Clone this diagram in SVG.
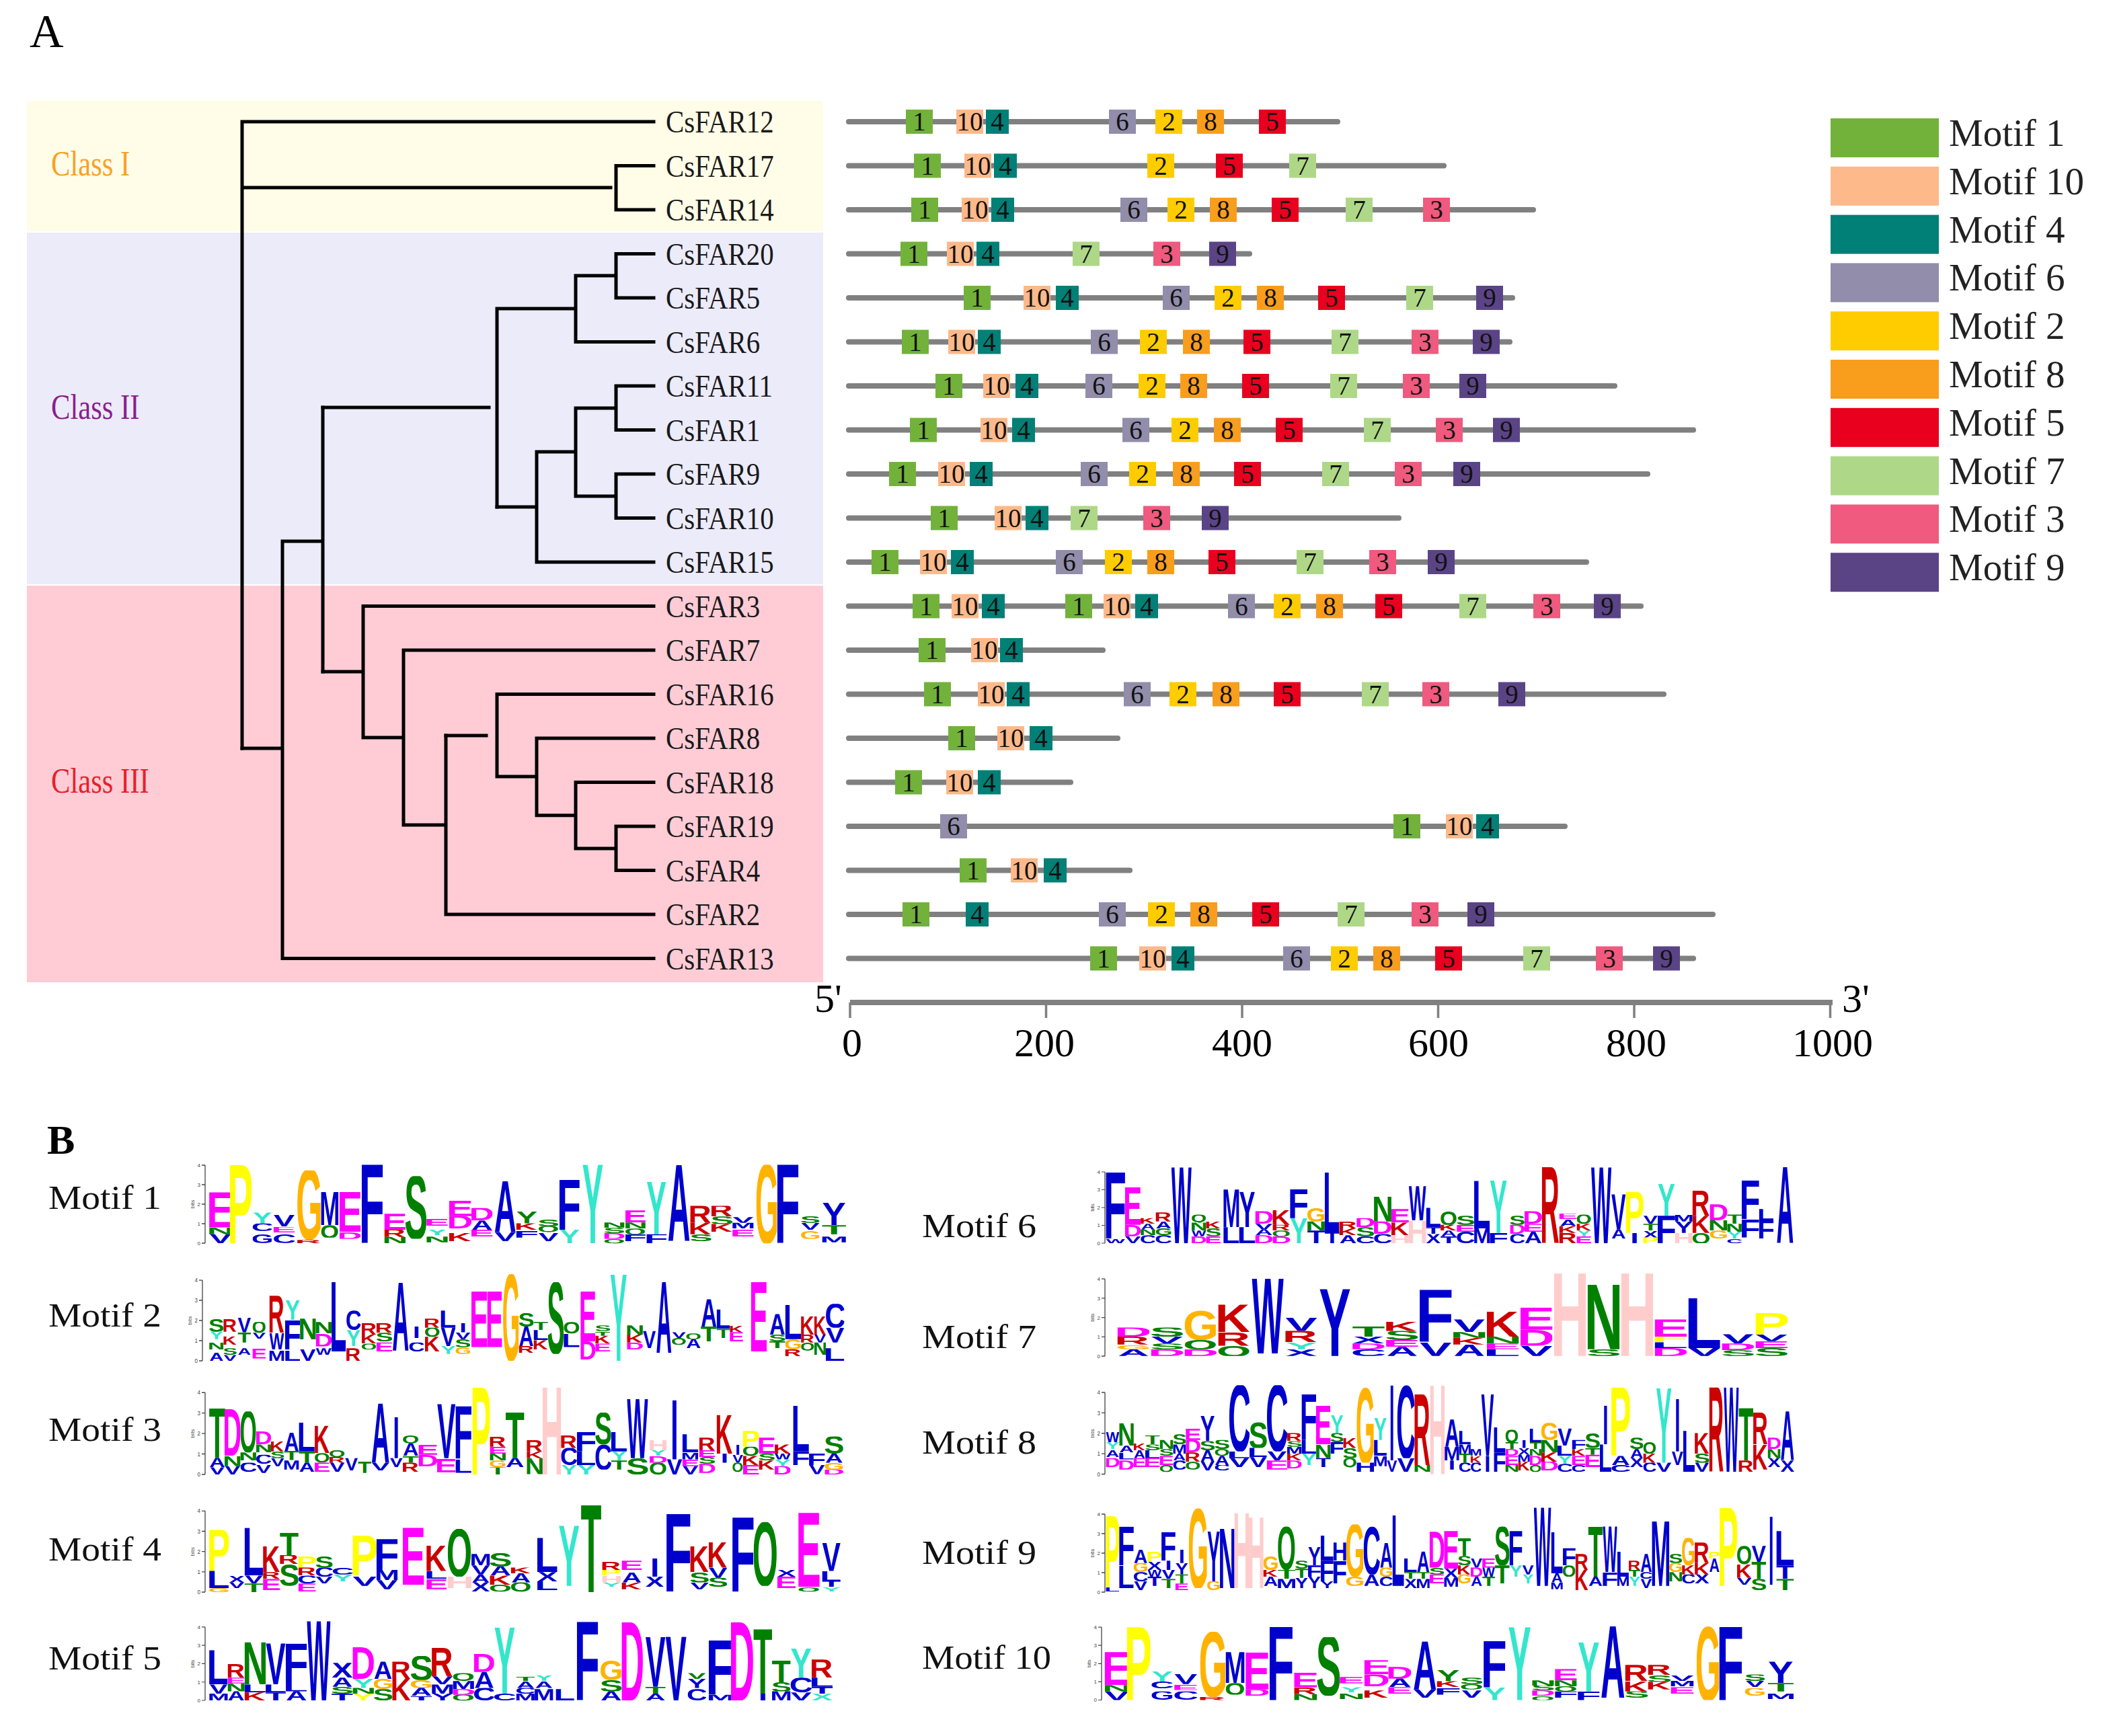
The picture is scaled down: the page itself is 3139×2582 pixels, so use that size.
<svg xmlns="http://www.w3.org/2000/svg" xmlns:xlink="http://www.w3.org/1999/xlink" width="3139" height="2582" viewBox="0 0 3139 2582">
<style>
symbol text{font-family:"Liberation Sans",Arial,sans-serif;font-weight:700;font-size:1000px}
.b{fill:#0000CC}.g{fill:#008000}.m{fill:#FF00FF}.r{fill:#CC0000}.o{fill:#FFB300}.y{fill:#FFFF00}.c{fill:#33E6CC}.p{fill:#FFCCCC}
.serif{font-family:"Liberation Serif","Times New Roman",serif}
.leaf{font-family:"Liberation Serif","Times New Roman",serif;font-size:47px;fill:#1a1a1a}
.cls{font-family:"Liberation Serif","Times New Roman",serif;font-size:52px}
.tree path{fill:none;stroke:#000;stroke-width:5;stroke-linecap:square}
.seq{fill:none;stroke:#808080;stroke-width:8;stroke-linecap:round}
.bx text{font-family:"Liberation Serif","Times New Roman",serif;font-size:39px;text-anchor:middle;fill:#111}
.k1{fill:#72B23A}.k10{fill:#FDB98A}.k4{fill:#008076}.k6{fill:#918DAA}.k2{fill:#FFCC00}.k8{fill:#F99D1C}.k5{fill:#E8001E}.k7{fill:#AED888}.k3{fill:#EF5A7E}.k9{fill:#5B4486}
.leg{font-family:"Liberation Serif","Times New Roman",serif;font-size:57px;fill:#222}
.axn{font-family:"Liberation Serif","Times New Roman",serif;font-size:60px;fill:#000;text-anchor:middle}
.ml{font-family:"Liberation Serif","Times New Roman",serif;font-size:50px;fill:#111}
.ax path{fill:none;stroke:#444;stroke-width:1.3}
.ax text{font-family:"Liberation Sans",Arial,sans-serif;font-size:8px;fill:#444}
</style>
<defs>
<symbol id="A" viewBox="0 24 722 692" preserveAspectRatio="none"><text y="716">A</text></symbol>
<symbol id="C" viewBox="40 24 640 692" preserveAspectRatio="none"><text y="716">C</text></symbol>
<symbol id="D" viewBox="70 24 605 692" preserveAspectRatio="none"><text y="716">D</text></symbol>
<symbol id="E" viewBox="70 24 550 692" preserveAspectRatio="none"><text y="716">E</text></symbol>
<symbol id="F" viewBox="70 24 500 692" preserveAspectRatio="none"><text y="716">F</text></symbol>
<symbol id="G" viewBox="40 24 690 692" preserveAspectRatio="none"><text y="716">G</text></symbol>
<symbol id="H" viewBox="70 24 580 692" preserveAspectRatio="none"><text y="716">H</text></symbol>
<symbol id="I" viewBox="-150 24 578 692" preserveAspectRatio="none"><text y="716">I</text></symbol>
<symbol id="K" viewBox="70 24 655 692" preserveAspectRatio="none"><text y="716">K</text></symbol>
<symbol id="L" viewBox="70 24 515 692" preserveAspectRatio="none"><text y="716">L</text></symbol>
<symbol id="M" viewBox="70 24 695 692" preserveAspectRatio="none"><text y="716">M</text></symbol>
<symbol id="N" viewBox="70 24 580 692" preserveAspectRatio="none"><text y="716">N</text></symbol>
<symbol id="P" viewBox="70 24 550 692" preserveAspectRatio="none"><text y="716">P</text></symbol>
<symbol id="Q" viewBox="40 24 715 692" preserveAspectRatio="none"><text y="716">Q</text></symbol>
<symbol id="R" viewBox="70 24 650 692" preserveAspectRatio="none"><text y="716">R</text></symbol>
<symbol id="S" viewBox="30 24 600 692" preserveAspectRatio="none"><text y="716">S</text></symbol>
<symbol id="T" viewBox="20 24 570 692" preserveAspectRatio="none"><text y="716">T</text></symbol>
<symbol id="V" viewBox="0 24 667 692" preserveAspectRatio="none"><text y="716">V</text></symbol>
<symbol id="W" viewBox="0 24 944 692" preserveAspectRatio="none"><text y="716">W</text></symbol>
<symbol id="X" viewBox="0 24 667 692" preserveAspectRatio="none"><text y="716">X</text></symbol>
<symbol id="Y" viewBox="0 24 667 692" preserveAspectRatio="none"><text y="716">Y</text></symbol>
<g id="b1" class="bx"><rect class="k1" x="0" y="-18" width="40" height="36"/><text x="20" y="13">1</text></g>
<g id="b2" class="bx"><rect class="k2" x="0" y="-18" width="40" height="36"/><text x="20" y="13">2</text></g>
<g id="b3" class="bx"><rect class="k3" x="0" y="-18" width="40" height="36"/><text x="20" y="13">3</text></g>
<g id="b4" class="bx"><rect class="k4" x="0" y="-18" width="34" height="36"/><text x="17" y="13">4</text></g>
<g id="b5" class="bx"><rect class="k5" x="0" y="-18" width="40" height="36"/><text x="20" y="13">5</text></g>
<g id="b6" class="bx"><rect class="k6" x="0" y="-18" width="40" height="36"/><text x="20" y="13">6</text></g>
<g id="b7" class="bx"><rect class="k7" x="0" y="-18" width="40" height="36"/><text x="20" y="13">7</text></g>
<g id="b8" class="bx"><rect class="k8" x="0" y="-18" width="40" height="36"/><text x="20" y="13">8</text></g>
<g id="b9" class="bx"><rect class="k9" x="0" y="-18" width="40" height="36"/><text x="20" y="13">9</text></g>
<g id="b10" class="bx"><rect class="k10" x="0" y="-18" width="40" height="36"/><text x="20" y="13">10</text></g>
<g id="ax" class="ax"><path d="M0,0V-116M-5,0H0M-5,-29H0M-5,-58H0M-5,-87H0M-5,-116H0"/><text x="-7" y="3" text-anchor="end">0</text><text x="-7" y="-26" text-anchor="end">1</text><text x="-7" y="-55" text-anchor="end">2</text><text x="-7" y="-84" text-anchor="end">3</text><text x="-7" y="-113" text-anchor="end">4</text><text transform="translate(-16,-58) rotate(-90)" text-anchor="middle">bits</text></g>
<g id="logoM1">
<use href="#E" class="m" x="333" y="245" width="42" height="155"/><use href="#N" class="g" x="333" y="400" width="42" height="30"/><use href="#V" class="b" x="333" y="430" width="42" height="40"/>
<use href="#P" class="y" x="372" y="125" width="41" height="345"/>
<use href="#Y" class="c" x="415" y="335" width="37" height="48"/><use href="#C" class="b" x="415" y="383" width="37" height="32"/><use href="#G" class="b" x="415" y="430" width="37" height="38"/>
<use href="#V" class="b" x="455" y="345" width="40" height="50"/><use href="#E" class="m" x="455" y="398" width="40" height="25"/><use href="#C" class="b" x="455" y="430" width="40" height="38"/>
<use href="#G" class="o" x="500" y="150" width="45" height="305"/><use href="#R" class="r" x="500" y="455" width="45" height="15"/>
<use href="#M" class="b" x="545" y="245" width="33" height="145"/><use href="#Q" class="g" x="545" y="390" width="33" height="55"/>
<use href="#E" class="m" x="580" y="245" width="40" height="175"/><use href="#D" class="m" x="580" y="420" width="40" height="30"/>
<use href="#F" class="b" x="622" y="125" width="40" height="345"/>
<use href="#E" class="m" x="665" y="340" width="40" height="70"/><use href="#R" class="r" x="665" y="410" width="40" height="32"/><use href="#N" class="g" x="665" y="442" width="40" height="28"/>
<use href="#S" class="g" x="705" y="175" width="40" height="275"/>
<use href="#E" class="m" x="745" y="362" width="40" height="30"/><use href="#Y" class="c" x="745" y="410" width="40" height="25"/><use href="#N" class="g" x="745" y="440" width="40" height="25"/>
<use href="#E" class="m" x="788" y="283" width="42" height="67"/><use href="#D" class="m" x="788" y="350" width="42" height="55"/><use href="#K" class="r" x="788" y="425" width="42" height="35"/>
<use href="#D" class="m" x="830" y="315" width="40" height="55"/><use href="#A" class="b" x="830" y="370" width="40" height="40"/><use href="#E" class="m" x="830" y="410" width="40" height="30"/>
<use href="#A" class="b" x="873" y="195" width="42" height="225"/><use href="#V" class="b" x="873" y="420" width="42" height="40"/>
<use href="#Y" class="g" x="915" y="328" width="40" height="54"/><use href="#K" class="r" x="915" y="382" width="40" height="28"/><use href="#F" class="b" x="915" y="415" width="40" height="30"/>
<use href="#S" class="g" x="957" y="365" width="38" height="30"/><use href="#Q" class="g" x="957" y="395" width="38" height="25"/><use href="#V" class="b" x="957" y="425" width="38" height="35"/>
<use href="#F" class="b" x="997" y="190" width="38" height="220"/><use href="#Y" class="c" x="997" y="410" width="38" height="60"/>
<use href="#Y" class="c" x="1040" y="125" width="40" height="345"/>
<use href="#N" class="g" x="1082" y="378" width="38" height="24"/><use href="#S" class="g" x="1082" y="402" width="38" height="23"/><use href="#D" class="m" x="1082" y="425" width="38" height="25"/><use href="#Q" class="g" x="1082" y="450" width="38" height="20"/>
<use href="#E" class="m" x="1122" y="325" width="38" height="53"/><use href="#N" class="g" x="1122" y="378" width="38" height="27"/><use href="#Q" class="g" x="1122" y="405" width="38" height="25"/><use href="#F" class="b" x="1122" y="430" width="38" height="30"/>
<use href="#Y" class="c" x="1162" y="200" width="38" height="230"/><use href="#F" class="b" x="1162" y="430" width="38" height="40"/>
<use href="#A" class="b" x="1202" y="125" width="43" height="335"/>
<use href="#R" class="r" x="1245" y="305" width="40" height="75"/><use href="#K" class="r" x="1245" y="380" width="40" height="50"/><use href="#S" class="g" x="1245" y="430" width="40" height="30"/>
<use href="#R" class="r" x="1285" y="305" width="40" height="47"/><use href="#S" class="g" x="1285" y="352" width="40" height="33"/><use href="#K" class="r" x="1285" y="385" width="40" height="35"/>
<use href="#V" class="b" x="1325" y="355" width="40" height="25"/><use href="#M" class="b" x="1325" y="380" width="40" height="25"/><use href="#E" class="m" x="1325" y="410" width="40" height="30"/>
<use href="#G" class="o" x="1370" y="125" width="40" height="345"/>
<use href="#F" class="b" x="1410" y="125" width="40" height="345"/>
<use href="#S" class="g" x="1455" y="350" width="35" height="30"/><use href="#V" class="b" x="1455" y="380" width="35" height="30"/><use href="#G" class="o" x="1455" y="415" width="35" height="35"/>
<use href="#Y" class="b" x="1495" y="290" width="45" height="100"/><use href="#T" class="g" x="1495" y="390" width="45" height="40"/><use href="#M" class="b" x="1495" y="440" width="45" height="25"/>
</g>
</defs>
<rect width="3139" height="2582" fill="#fff"/>
<text class="serif" x="44" y="70" font-size="70">A</text>
<g id="bands">
<rect x="40" y="150" width="1184" height="194" fill="#FFFDE7"/>
<rect x="40" y="346" width="1184" height="523" fill="#ECEBFA"/>
<rect x="40" y="871" width="1184" height="590" fill="#FFCCD6"/>
<text class="cls" transform="translate(76,261) scale(0.82,1)" fill="#F7A128">Class I</text>
<text class="cls" transform="translate(76,623) scale(0.82,1)" fill="#8B1F8B">Class II</text>
<text class="cls" transform="translate(76,1179) scale(0.82,1)" fill="#E8202A">Class III</text>
</g>
<g id="connectors" class="tree">
<path d="M360,181V1113M360,181H972M360,279H908M916,246.5V312M916,246.5H972M916,312H972"/>
<path d="M360,1113H420M420,805V1425.5M420,1425.5H972M420,805H480M480,606V999"/>
<path d="M480,606H727M739,459V754M739,459H856M856,410V508.5M856,410H916M916,377.5V443M916,377.5H972M916,443H972M856,508.5H972"/>
<path d="M739,754H798M798,672V836M798,836H972M798,672H856M856,607V738M856,607H916M916,574V639.5M916,574H972M916,639.5H972M856,738H916M916,705V770.5M916,705H972M916,770.5H972"/>
<path d="M480,999H540M540,901.5V1097M540,901.5H972M540,1097H600M600,967V1227M600,967H972M600,1227H663M663,1094V1360M663,1360H972"/>
<path d="M663,1094H723M739,1032.5V1155M739,1032.5H972M739,1155H798M798,1098V1212.7M798,1098H972M798,1212.7H856M856,1163.5V1262M856,1163.5H972M856,1262H916M916,1229V1294.5M916,1229H972M916,1294.5H972"/>
</g>
<g id="leaf-labels">
<g id="CsFAR12"><text class="leaf" transform="translate(990,197) scale(0.87,1)">CsFAR12</text></g>
<g id="CsFAR17"><text class="leaf" transform="translate(990,262.5) scale(0.87,1)">CsFAR17</text></g>
<g id="CsFAR14"><text class="leaf" transform="translate(990,328) scale(0.87,1)">CsFAR14</text></g>
<g id="CsFAR20"><text class="leaf" transform="translate(990,393.5) scale(0.87,1)">CsFAR20</text></g>
<g id="CsFAR5"><text class="leaf" transform="translate(990,459) scale(0.87,1)">CsFAR5</text></g>
<g id="CsFAR6"><text class="leaf" transform="translate(990,524.5) scale(0.87,1)">CsFAR6</text></g>
<g id="CsFAR11"><text class="leaf" transform="translate(990,590) scale(0.87,1)">CsFAR11</text></g>
<g id="CsFAR1"><text class="leaf" transform="translate(990,655.5) scale(0.87,1)">CsFAR1</text></g>
<g id="CsFAR9"><text class="leaf" transform="translate(990,721) scale(0.87,1)">CsFAR9</text></g>
<g id="CsFAR10"><text class="leaf" transform="translate(990,786.5) scale(0.87,1)">CsFAR10</text></g>
<g id="CsFAR15"><text class="leaf" transform="translate(990,852) scale(0.87,1)">CsFAR15</text></g>
<g id="CsFAR3"><text class="leaf" transform="translate(990,917.5) scale(0.87,1)">CsFAR3</text></g>
<g id="CsFAR7"><text class="leaf" transform="translate(990,983) scale(0.87,1)">CsFAR7</text></g>
<g id="CsFAR16"><text class="leaf" transform="translate(990,1048.5) scale(0.87,1)">CsFAR16</text></g>
<g id="CsFAR8"><text class="leaf" transform="translate(990,1114) scale(0.87,1)">CsFAR8</text></g>
<g id="CsFAR18"><text class="leaf" transform="translate(990,1179.5) scale(0.87,1)">CsFAR18</text></g>
<g id="CsFAR19"><text class="leaf" transform="translate(990,1245) scale(0.87,1)">CsFAR19</text></g>
<g id="CsFAR4"><text class="leaf" transform="translate(990,1310.5) scale(0.87,1)">CsFAR4</text></g>
<g id="CsFAR2"><text class="leaf" transform="translate(990,1376) scale(0.87,1)">CsFAR2</text></g>
<g id="CsFAR13"><text class="leaf" transform="translate(990,1441.5) scale(0.87,1)">CsFAR13</text></g>
</g>
<g id="motif-rows">
<g id="row-CsFAR12"><path class="seq" d="M1262,181H1989"/><use href="#b1" x="1347" y="181"/><use href="#b10" x="1422" y="181"/><use href="#b4" x="1466" y="181"/><use href="#b6" x="1649" y="181"/><use href="#b2" x="1718" y="181"/><use href="#b8" x="1780" y="181"/><use href="#b5" x="1872" y="181"/></g>
<g id="row-CsFAR17"><path class="seq" d="M1262,246.5H2147"/><use href="#b1" x="1359" y="246.5"/><use href="#b10" x="1434" y="246.5"/><use href="#b4" x="1478" y="246.5"/><use href="#b2" x="1706" y="246.5"/><use href="#b5" x="1808" y="246.5"/><use href="#b7" x="1917" y="246.5"/></g>
<g id="row-CsFAR14"><path class="seq" d="M1262,312H2280"/><use href="#b1" x="1355" y="312"/><use href="#b10" x="1430" y="312"/><use href="#b4" x="1474" y="312"/><use href="#b6" x="1666" y="312"/><use href="#b2" x="1736" y="312"/><use href="#b8" x="1799" y="312"/><use href="#b5" x="1891" y="312"/><use href="#b7" x="2001" y="312"/><use href="#b3" x="2116" y="312"/></g>
<g id="row-CsFAR20"><path class="seq" d="M1262,377.5H1858"/><use href="#b1" x="1339" y="377.5"/><use href="#b10" x="1408" y="377.5"/><use href="#b4" x="1452" y="377.5"/><use href="#b7" x="1595" y="377.5"/><use href="#b3" x="1715" y="377.5"/><use href="#b9" x="1798" y="377.5"/></g>
<g id="row-CsFAR5"><path class="seq" d="M1262,443H2249"/><use href="#b1" x="1433" y="443"/><use href="#b10" x="1522" y="443"/><use href="#b4" x="1570" y="443"/><use href="#b6" x="1729" y="443"/><use href="#b2" x="1806" y="443"/><use href="#b8" x="1869" y="443"/><use href="#b5" x="1960" y="443"/><use href="#b7" x="2091" y="443"/><use href="#b9" x="2195" y="443"/></g>
<g id="row-CsFAR6"><path class="seq" d="M1262,508.5H2245"/><use href="#b1" x="1341" y="508.5"/><use href="#b10" x="1410" y="508.5"/><use href="#b4" x="1454" y="508.5"/><use href="#b6" x="1622" y="508.5"/><use href="#b2" x="1695" y="508.5"/><use href="#b8" x="1759" y="508.5"/><use href="#b5" x="1849" y="508.5"/><use href="#b7" x="1980" y="508.5"/><use href="#b3" x="2099" y="508.5"/><use href="#b9" x="2190" y="508.5"/></g>
<g id="row-CsFAR11"><path class="seq" d="M1262,574H2401"/><use href="#b1" x="1391" y="574"/><use href="#b10" x="1462" y="574"/><use href="#b4" x="1510" y="574"/><use href="#b6" x="1614" y="574"/><use href="#b2" x="1693" y="574"/><use href="#b8" x="1755" y="574"/><use href="#b5" x="1847" y="574"/><use href="#b7" x="1978" y="574"/><use href="#b3" x="2086" y="574"/><use href="#b9" x="2170" y="574"/></g>
<g id="row-CsFAR1"><path class="seq" d="M1262,639.5H2518"/><use href="#b1" x="1353" y="639.5"/><use href="#b10" x="1458" y="639.5"/><use href="#b4" x="1505" y="639.5"/><use href="#b6" x="1669" y="639.5"/><use href="#b2" x="1742" y="639.5"/><use href="#b8" x="1805" y="639.5"/><use href="#b5" x="1897" y="639.5"/><use href="#b7" x="2028" y="639.5"/><use href="#b3" x="2135" y="639.5"/><use href="#b9" x="2220" y="639.5"/></g>
<g id="row-CsFAR9"><path class="seq" d="M1262,705H2450"/><use href="#b1" x="1322" y="705"/><use href="#b10" x="1395" y="705"/><use href="#b4" x="1442" y="705"/><use href="#b6" x="1607" y="705"/><use href="#b2" x="1679" y="705"/><use href="#b8" x="1744" y="705"/><use href="#b5" x="1835" y="705"/><use href="#b7" x="1966" y="705"/><use href="#b3" x="2074" y="705"/><use href="#b9" x="2161" y="705"/></g>
<g id="row-CsFAR10"><path class="seq" d="M1262,770.5H2080"/><use href="#b1" x="1384" y="770.5"/><use href="#b10" x="1479" y="770.5"/><use href="#b4" x="1525" y="770.5"/><use href="#b7" x="1592" y="770.5"/><use href="#b3" x="1700" y="770.5"/><use href="#b9" x="1787" y="770.5"/></g>
<g id="row-CsFAR15"><path class="seq" d="M1262,836H2359"/><use href="#b1" x="1296" y="836"/><use href="#b10" x="1368" y="836"/><use href="#b4" x="1414" y="836"/><use href="#b6" x="1570" y="836"/><use href="#b2" x="1643" y="836"/><use href="#b8" x="1706" y="836"/><use href="#b5" x="1797" y="836"/><use href="#b7" x="1928" y="836"/><use href="#b3" x="2036" y="836"/><use href="#b9" x="2123" y="836"/></g>
<g id="row-CsFAR3"><path class="seq" d="M1262,901.5H2440"/><use href="#b1" x="1357" y="901.5"/><use href="#b10" x="1415" y="901.5"/><use href="#b4" x="1460" y="901.5"/><use href="#b1" x="1584" y="901.5"/><use href="#b10" x="1641" y="901.5"/><use href="#b4" x="1688" y="901.5"/><use href="#b6" x="1826" y="901.5"/><use href="#b2" x="1894" y="901.5"/><use href="#b8" x="1957" y="901.5"/><use href="#b5" x="2045" y="901.5"/><use href="#b7" x="2170" y="901.5"/><use href="#b3" x="2280" y="901.5"/><use href="#b9" x="2370" y="901.5"/></g>
<g id="row-CsFAR7"><path class="seq" d="M1262,967H1640"/><use href="#b1" x="1366" y="967"/><use href="#b10" x="1444" y="967"/><use href="#b4" x="1487" y="967"/></g>
<g id="row-CsFAR16"><path class="seq" d="M1262,1032.5H2474"/><use href="#b1" x="1374" y="1032.5"/><use href="#b10" x="1454" y="1032.5"/><use href="#b4" x="1497" y="1032.5"/><use href="#b6" x="1671" y="1032.5"/><use href="#b2" x="1739" y="1032.5"/><use href="#b8" x="1803" y="1032.5"/><use href="#b5" x="1894" y="1032.5"/><use href="#b7" x="2025" y="1032.5"/><use href="#b3" x="2115" y="1032.5"/><use href="#b9" x="2228" y="1032.5"/></g>
<g id="row-CsFAR8"><path class="seq" d="M1262,1098H1662"/><use href="#b1" x="1410" y="1098"/><use href="#b10" x="1483" y="1098"/><use href="#b4" x="1531" y="1098"/></g>
<g id="row-CsFAR18"><path class="seq" d="M1262,1163.5H1592"/><use href="#b1" x="1331" y="1163.5"/><use href="#b10" x="1407" y="1163.5"/><use href="#b4" x="1454" y="1163.5"/></g>
<g id="row-CsFAR19"><path class="seq" d="M1262,1229H2327"/><use href="#b6" x="1398" y="1229"/><use href="#b1" x="2072" y="1229"/><use href="#b10" x="2150" y="1229"/><use href="#b4" x="2195" y="1229"/></g>
<g id="row-CsFAR4"><path class="seq" d="M1262,1294.5H1680"/><use href="#b1" x="1427" y="1294.5"/><use href="#b10" x="1503" y="1294.5"/><use href="#b4" x="1552" y="1294.5"/></g>
<g id="row-CsFAR2"><path class="seq" d="M1262,1360H2547"/><use href="#b1" x="1342" y="1360"/><use href="#b4" x="1436" y="1360"/><use href="#b6" x="1634" y="1360"/><use href="#b2" x="1707" y="1360"/><use href="#b8" x="1770" y="1360"/><use href="#b5" x="1862" y="1360"/><use href="#b7" x="1989" y="1360"/><use href="#b3" x="2099" y="1360"/><use href="#b9" x="2182" y="1360"/></g>
<g id="row-CsFAR13"><path class="seq" d="M1262,1425.5H2518"/><use href="#b1" x="1621" y="1425.5"/><use href="#b10" x="1694" y="1425.5"/><use href="#b4" x="1742" y="1425.5"/><use href="#b6" x="1908" y="1425.5"/><use href="#b2" x="1979" y="1425.5"/><use href="#b8" x="2042" y="1425.5"/><use href="#b5" x="2134" y="1425.5"/><use href="#b7" x="2265" y="1425.5"/><use href="#b3" x="2373" y="1425.5"/><use href="#b9" x="2458" y="1425.5"/></g>
</g>
<g id="axis">
<path d="M1264,1491H2725" stroke="#808080" stroke-width="8" fill="none"/>
<path d="M1264,1491V1514M1555.5,1491V1514M1847,1491V1514M2138.5,1491V1514M2430,1491V1514M2721.5,1491V1514" stroke="#808080" stroke-width="3.5" fill="none"/>
<text class="serif" x="1211" y="1505" font-size="60">5'</text>
<text class="serif" x="2739" y="1505" font-size="60">3'</text>
<text class="axn" x="1267" y="1571">0</text>
<text class="axn" x="1553" y="1571">200</text>
<text class="axn" x="1847" y="1571">400</text>
<text class="axn" x="2139" y="1571">600</text>
<text class="axn" x="2433" y="1571">800</text>
<text class="axn" x="2725" y="1571">1000</text>
</g>
<g id="legend">
<rect class="k1" x="2722" y="176" width="161" height="58"/><text class="leg" x="2898" y="217">Motif 1</text>
<rect class="k10" x="2722" y="247.8" width="161" height="58"/><text class="leg" x="2898" y="288.8">Motif 10</text>
<rect class="k4" x="2722" y="319.6" width="161" height="58"/><text class="leg" x="2898" y="360.6">Motif 4</text>
<rect class="k6" x="2722" y="391.4" width="161" height="58"/><text class="leg" x="2898" y="432.4">Motif 6</text>
<rect class="k2" x="2722" y="463.2" width="161" height="58"/><text class="leg" x="2898" y="504.2">Motif 2</text>
<rect class="k8" x="2722" y="535" width="161" height="58"/><text class="leg" x="2898" y="576">Motif 8</text>
<rect class="k5" x="2722" y="606.8" width="161" height="58"/><text class="leg" x="2898" y="647.8">Motif 5</text>
<rect class="k7" x="2722" y="678.6" width="161" height="58"/><text class="leg" x="2898" y="719.6">Motif 7</text>
<rect class="k3" x="2722" y="750.4" width="161" height="58"/><text class="leg" x="2898" y="791.4">Motif 3</text>
<rect class="k9" x="2722" y="822.2" width="161" height="58"/><text class="leg" x="2898" y="863.2">Motif 9</text>
</g>
<text class="serif" x="70" y="1716" font-size="62" font-weight="bold">B</text>
<g id="logo-labels">
<text class="ml" x="72" y="1798" textLength="168" lengthAdjust="spacingAndGlyphs">Motif 1</text>
<text class="ml" x="72" y="1973" textLength="168" lengthAdjust="spacingAndGlyphs">Motif 2</text>
<text class="ml" x="72" y="2143" textLength="168" lengthAdjust="spacingAndGlyphs">Motif 3</text>
<text class="ml" x="72" y="2321" textLength="168" lengthAdjust="spacingAndGlyphs">Motif 4</text>
<text class="ml" x="72" y="2483" textLength="168" lengthAdjust="spacingAndGlyphs">Motif 5</text>
<text class="ml" x="1371" y="1840" textLength="170" lengthAdjust="spacingAndGlyphs">Motif 6</text>
<text class="ml" x="1371" y="2005" textLength="170" lengthAdjust="spacingAndGlyphs">Motif 7</text>
<text class="ml" x="1371" y="2162" textLength="170" lengthAdjust="spacingAndGlyphs">Motif 8</text>
<text class="ml" x="1371" y="2326" textLength="170" lengthAdjust="spacingAndGlyphs">Motif 9</text>
<text class="ml" x="1371" y="2482" textLength="192" lengthAdjust="spacingAndGlyphs">Motif 10</text>
</g>
<g id="logo-axes">
<use href="#ax" transform="translate(305,1849)"/>
<use href="#ax" transform="translate(301,2024) scale(1,1.034)"/>
<use href="#ax" transform="translate(305,2193) scale(1,1.05)"/>
<use href="#ax" transform="translate(305,2368) scale(1,1.04)"/>
<use href="#ax" transform="translate(305,2529) scale(1,0.94)"/>
<use href="#ax" transform="translate(1643,1849) scale(1,0.914)"/>
<use href="#ax" transform="translate(1643,2017) scale(1,0.99)"/>
<use href="#ax" transform="translate(1643,2192.5) scale(1,1.047)"/>
<use href="#ax" transform="translate(1643,2368)"/>
<use href="#ax" transform="translate(1638,2528.5) scale(1,0.935)"/>
</g>
<g id="logo-motif1"><use href="#logoM1" transform="matrix(0.7843,0,0,0.339,50,1690)"/></g>
<g id="logo-motif10"><use href="#logoM1" transform="matrix(0.8486,0,0,0.3173,1360.1,2379.4)"/></g>
<g id="logo-motif2" transform="matrix(0.7843,0,0,0.339,50,1690)">
<use href="#S" class="g" x="333" y="800" width="27" height="58"/><use href="#Y" class="c" x="333" y="858" width="27" height="32"/><use href="#N" class="g" x="333" y="905" width="27" height="30"/><use href="#A" class="b" x="333" y="950" width="27" height="35"/>
<use href="#R" class="r" x="360" y="800" width="25" height="58"/><use href="#K" class="r" x="360" y="878" width="25" height="37"/><use href="#S" class="g" x="360" y="930" width="25" height="30"/><use href="#V" class="b" x="360" y="960" width="25" height="25"/>
<use href="#V" class="b" x="387" y="795" width="25" height="65"/><use href="#T" class="g" x="387" y="860" width="25" height="45"/><use href="#A" class="b" x="387" y="930" width="25" height="30"/>
<use href="#Q" class="g" x="415" y="815" width="25" height="47"/><use href="#V" class="b" x="415" y="862" width="25" height="26"/><use href="#E" class="m" x="415" y="930" width="25" height="45"/>
<use href="#R" class="r" x="447" y="700" width="28" height="162"/><use href="#W" class="b" x="447" y="862" width="28" height="73"/><use href="#M" class="b" x="447" y="940" width="28" height="45"/>
<use href="#Y" class="c" x="477" y="720" width="28" height="85"/><use href="#F" class="b" x="477" y="805" width="28" height="130"/><use href="#L" class="b" x="477" y="940" width="28" height="45"/>
<use href="#N" class="g" x="505" y="800" width="30" height="92"/><use href="#V" class="b" x="505" y="935" width="30" height="50"/>
<use href="#N" class="g" x="535" y="815" width="30" height="50"/><use href="#D" class="m" x="535" y="865" width="30" height="57"/><use href="#W" class="b" x="535" y="930" width="30" height="30"/>
<use href="#L" class="b" x="565" y="640" width="27" height="305"/>
<use href="#C" class="b" x="593" y="765" width="27" height="85"/><use href="#Y" class="c" x="593" y="850" width="27" height="70"/><use href="#R" class="r" x="593" y="930" width="27" height="55"/>
<use href="#R" class="r" x="622" y="820" width="28" height="50"/><use href="#K" class="r" x="622" y="870" width="28" height="40"/><use href="#Q" class="g" x="622" y="910" width="28" height="25"/>
<use href="#R" class="r" x="650" y="820" width="30" height="42"/><use href="#S" class="g" x="650" y="862" width="30" height="38"/><use href="#E" class="m" x="650" y="905" width="30" height="40"/>
<use href="#A" class="b" x="680" y="640" width="32" height="300"/>
<use href="#I" class="b" x="712" y="835" width="28" height="50"/><use href="#C" class="b" x="712" y="905" width="28" height="40"/>
<use href="#R" class="r" x="742" y="800" width="28" height="40"/><use href="#Q" class="g" x="742" y="840" width="28" height="40"/><use href="#K" class="r" x="742" y="880" width="28" height="65"/>
<use href="#L" class="b" x="772" y="765" width="28" height="75"/><use href="#V" class="b" x="772" y="840" width="28" height="80"/><use href="#Y" class="c" x="772" y="920" width="28" height="35"/>
<use href="#I" class="b" x="800" y="820" width="28" height="40"/><use href="#V" class="b" x="800" y="860" width="28" height="30"/><use href="#S" class="g" x="800" y="890" width="28" height="35"/><use href="#G" class="o" x="800" y="925" width="28" height="30"/>
<use href="#E" class="m" x="830" y="680" width="30" height="245"/>
<use href="#E" class="m" x="860" y="680" width="28" height="245"/>
<use href="#G" class="o" x="890" y="605" width="30" height="380"/>
<use href="#S" class="g" x="920" y="775" width="28" height="60"/><use href="#A" class="b" x="920" y="835" width="28" height="85"/><use href="#R" class="r" x="920" y="920" width="28" height="30"/>
<use href="#T" class="g" x="948" y="815" width="27" height="35"/><use href="#L" class="b" x="948" y="850" width="27" height="45"/><use href="#K" class="r" x="948" y="895" width="27" height="40"/>
<use href="#S" class="g" x="975" y="640" width="30" height="315"/>
<use href="#Q" class="g" x="1005" y="815" width="30" height="50"/><use href="#L" class="b" x="1005" y="865" width="30" height="60"/>
<use href="#E" class="m" x="1037" y="680" width="28" height="220"/><use href="#D" class="m" x="1037" y="900" width="28" height="80"/>
<use href="#S" class="g" x="1065" y="830" width="28" height="25"/><use href="#T" class="g" x="1065" y="855" width="28" height="20"/><use href="#K" class="r" x="1065" y="875" width="28" height="35"/><use href="#E" class="m" x="1065" y="910" width="28" height="35"/>
<use href="#Y" class="c" x="1093" y="605" width="32" height="380"/>
<use href="#N" class="g" x="1125" y="830" width="30" height="40"/><use href="#K" class="r" x="1125" y="870" width="30" height="35"/><use href="#D" class="m" x="1125" y="905" width="30" height="30"/>
<use href="#V" class="b" x="1155" y="855" width="25" height="75"/>
<use href="#A" class="b" x="1180" y="640" width="30" height="310"/>
<use href="#V" class="b" x="1210" y="860" width="27" height="25"/><use href="#Q" class="g" x="1210" y="885" width="27" height="30"/>
<use href="#Q" class="g" x="1237" y="865" width="28" height="25"/><use href="#A" class="b" x="1237" y="890" width="28" height="40"/>
<use href="#A" class="b" x="1265" y="715" width="30" height="120"/><use href="#T" class="g" x="1265" y="835" width="30" height="65"/>
<use href="#L" class="b" x="1295" y="760" width="25" height="85"/><use href="#T" class="g" x="1295" y="845" width="25" height="40"/>
<use href="#K" class="r" x="1320" y="830" width="25" height="30"/><use href="#E" class="m" x="1320" y="860" width="25" height="40"/>
<use href="#E" class="m" x="1360" y="640" width="30" height="305"/>
<use href="#A" class="b" x="1395" y="780" width="30" height="90"/><use href="#S" class="g" x="1395" y="870" width="30" height="30"/><use href="#T" class="g" x="1395" y="900" width="30" height="30"/>
<use href="#L" class="b" x="1425" y="740" width="30" height="150"/><use href="#G" class="o" x="1425" y="890" width="30" height="45"/><use href="#R" class="r" x="1425" y="935" width="30" height="30"/>
<use href="#K" class="r" x="1455" y="790" width="25" height="80"/><use href="#R" class="r" x="1455" y="870" width="25" height="35"/><use href="#Q" class="g" x="1455" y="905" width="25" height="35"/>
<use href="#K" class="r" x="1480" y="790" width="22" height="80"/><use href="#V" class="b" x="1480" y="870" width="22" height="35"/><use href="#N" class="g" x="1480" y="905" width="22" height="55"/>
<use href="#C" class="b" x="1502" y="735" width="35" height="105"/><use href="#V" class="b" x="1502" y="840" width="35" height="65"/><use href="#L" class="b" x="1502" y="930" width="35" height="55"/>
</g>
<g id="logo-motif3" transform="matrix(0.7843,0,0,0.339,50,2040)">
<use href="#T" class="g" x="333" y="160" width="30" height="220"/><use href="#A" class="b" x="333" y="380" width="30" height="40"/><use href="#V" class="b" x="333" y="420" width="30" height="32"/>
<use href="#D" class="m" x="362" y="165" width="30" height="205"/><use href="#N" class="g" x="362" y="370" width="30" height="45"/><use href="#V" class="b" x="362" y="415" width="30" height="37"/>
<use href="#Q" class="g" x="392" y="175" width="30" height="180"/><use href="#N" class="g" x="392" y="355" width="30" height="35"/><use href="#C" class="b" x="392" y="400" width="30" height="40"/>
<use href="#D" class="m" x="422" y="262" width="28" height="58"/><use href="#N" class="g" x="422" y="320" width="28" height="35"/><use href="#C" class="b" x="422" y="365" width="28" height="40"/><use href="#V" class="b" x="422" y="410" width="28" height="35"/>
<use href="#K" class="r" x="450" y="305" width="25" height="45"/><use href="#S" class="g" x="450" y="350" width="25" height="30"/><use href="#V" class="b" x="450" y="380" width="25" height="35"/>
<use href="#A" class="b" x="475" y="268" width="28" height="80"/><use href="#T" class="g" x="475" y="348" width="28" height="40"/><use href="#M" class="b" x="475" y="390" width="28" height="40"/>
<use href="#L" class="b" x="503" y="220" width="30" height="130"/><use href="#T" class="g" x="503" y="350" width="30" height="50"/><use href="#A" class="b" x="503" y="400" width="30" height="40"/>
<use href="#K" class="r" x="533" y="238" width="28" height="120"/><use href="#Q" class="g" x="533" y="358" width="28" height="40"/><use href="#E" class="m" x="533" y="400" width="28" height="40"/>
<use href="#Q" class="g" x="561" y="345" width="29" height="30"/><use href="#R" class="r" x="561" y="375" width="29" height="25"/><use href="#V" class="b" x="561" y="400" width="29" height="40"/>
<use href="#V" class="b" x="590" y="380" width="25" height="55"/><use href="#T" class="g" x="615" y="395" width="25" height="50"/>
<use href="#A" class="b" x="640" y="140" width="35" height="260"/><use href="#V" class="b" x="640" y="400" width="35" height="35"/>
<use href="#I" class="b" x="675" y="200" width="25" height="180"/><use href="#V" class="b" x="675" y="380" width="25" height="40"/>
<use href="#Q" class="g" x="700" y="280" width="30" height="35"/><use href="#A" class="b" x="700" y="315" width="30" height="55"/><use href="#T" class="g" x="700" y="370" width="30" height="30"/><use href="#R" class="r" x="700" y="400" width="30" height="40"/>
<use href="#E" class="m" x="730" y="320" width="35" height="45"/><use href="#D" class="m" x="730" y="365" width="35" height="50"/>
<use href="#V" class="b" x="765" y="140" width="35" height="240"/><use href="#E" class="m" x="765" y="380" width="35" height="62"/>
<use href="#F" class="b" x="800" y="152" width="30" height="230"/><use href="#L" class="b" x="800" y="382" width="30" height="62"/>
<use href="#P" class="y" x="832" y="70" width="33" height="382"/>
<use href="#R" class="r" x="865" y="285" width="30" height="45"/><use href="#E" class="m" x="865" y="330" width="30" height="30"/><use href="#N" class="g" x="865" y="360" width="30" height="30"/><use href="#G" class="o" x="865" y="390" width="30" height="30"/><use href="#T" class="g" x="865" y="420" width="30" height="32"/>
<use href="#T" class="g" x="895" y="180" width="35" height="200"/><use href="#A" class="b" x="895" y="380" width="35" height="40"/>
<use href="#R" class="r" x="935" y="300" width="30" height="50"/><use href="#K" class="r" x="935" y="350" width="30" height="30"/><use href="#N" class="g" x="935" y="380" width="30" height="70"/>
<use href="#H" class="p" x="965" y="70" width="35" height="382"/>
<use href="#R" class="r" x="1000" y="280" width="30" height="55"/><use href="#C" class="b" x="1000" y="335" width="30" height="75"/><use href="#Y" class="c" x="1000" y="410" width="30" height="42"/>
<use href="#F" class="b" x="1030" y="265" width="35" height="85"/><use href="#L" class="b" x="1030" y="350" width="35" height="60"/><use href="#Y" class="c" x="1030" y="410" width="35" height="42"/>
<use href="#S" class="g" x="1065" y="180" width="30" height="140"/><use href="#C" class="b" x="1065" y="320" width="30" height="110"/>
<use href="#L" class="b" x="1095" y="265" width="30" height="85"/><use href="#Y" class="c" x="1095" y="350" width="30" height="40"/><use href="#T" class="g" x="1095" y="390" width="30" height="40"/>
<use href="#W" class="b" x="1125" y="120" width="40" height="260"/><use href="#S" class="g" x="1125" y="380" width="40" height="72"/>
<use href="#H" class="p" x="1168" y="300" width="32" height="45"/><use href="#Y" class="c" x="1168" y="345" width="32" height="25"/><use href="#D" class="m" x="1168" y="370" width="32" height="30"/><use href="#Q" class="g" x="1168" y="400" width="32" height="52"/>
<use href="#I" class="b" x="1200" y="125" width="30" height="260"/><use href="#V" class="b" x="1200" y="385" width="30" height="67"/>
<use href="#L" class="b" x="1230" y="275" width="30" height="80"/><use href="#M" class="b" x="1230" y="355" width="30" height="30"/><use href="#E" class="m" x="1230" y="385" width="30" height="30"/><use href="#V" class="b" x="1230" y="415" width="30" height="37"/>
<use href="#R" class="r" x="1262" y="290" width="30" height="55"/><use href="#E" class="m" x="1262" y="345" width="30" height="30"/><use href="#S" class="g" x="1262" y="375" width="30" height="30"/><use href="#D" class="m" x="1262" y="405" width="30" height="40"/>
<use href="#K" class="r" x="1295" y="190" width="30" height="170"/><use href="#I" class="b" x="1295" y="360" width="30" height="40"/>
<use href="#I" class="b" x="1325" y="320" width="20" height="45"/><use href="#V" class="b" x="1325" y="365" width="20" height="35"/><use href="#Q" class="g" x="1325" y="400" width="20" height="40"/>
<use href="#P" class="y" x="1345" y="260" width="30" height="70"/><use href="#Q" class="g" x="1345" y="330" width="30" height="40"/><use href="#K" class="r" x="1345" y="370" width="30" height="40"/><use href="#E" class="m" x="1345" y="410" width="30" height="42"/>
<use href="#E" class="m" x="1375" y="290" width="30" height="70"/><use href="#S" class="g" x="1375" y="360" width="30" height="30"/><use href="#K" class="r" x="1375" y="390" width="30" height="40"/>
<use href="#K" class="r" x="1405" y="320" width="30" height="40"/><use href="#W" class="b" x="1405" y="360" width="30" height="25"/><use href="#Y" class="c" x="1405" y="385" width="30" height="30"/><use href="#D" class="m" x="1405" y="415" width="30" height="37"/>
<use href="#L" class="b" x="1440" y="150" width="30" height="200"/><use href="#F" class="b" x="1440" y="350" width="30" height="60"/>
<use href="#F" class="b" x="1470" y="360" width="30" height="50"/><use href="#V" class="b" x="1470" y="410" width="30" height="40"/>
<use href="#S" class="g" x="1500" y="285" width="35" height="75"/><use href="#A" class="b" x="1500" y="360" width="35" height="40"/><use href="#G" class="o" x="1500" y="400" width="35" height="30"/><use href="#D" class="m" x="1500" y="430" width="35" height="22"/>
</g>
<g id="logo-motif4" transform="matrix(0.7843,0,0,0.339,50,2040)">
<use href="#P" class="y" x="333" y="695" width="37" height="180"/><use href="#L" class="b" x="333" y="875" width="37" height="75"/><use href="#G" class="o" x="333" y="950" width="37" height="18"/>
<use href="#X" class="b" x="370" y="895" width="30" height="30"/><use href="#V" class="b" x="370" y="925" width="30" height="25"/>
<use href="#L" class="b" x="400" y="685" width="35" height="210"/><use href="#V" class="b" x="400" y="895" width="35" height="35"/><use href="#T" class="g" x="400" y="930" width="35" height="38"/>
<use href="#K" class="r" x="435" y="765" width="32" height="115"/><use href="#R" class="r" x="435" y="880" width="32" height="30"/><use href="#E" class="m" x="435" y="910" width="32" height="50"/>
<use href="#T" class="g" x="467" y="705" width="35" height="100"/><use href="#R" class="r" x="467" y="805" width="35" height="40"/><use href="#S" class="g" x="467" y="845" width="35" height="95"/>
<use href="#P" class="y" x="502" y="810" width="33" height="50"/><use href="#R" class="r" x="502" y="860" width="33" height="35"/><use href="#C" class="b" x="502" y="895" width="33" height="35"/><use href="#E" class="m" x="502" y="930" width="33" height="35"/>
<use href="#S" class="g" x="535" y="810" width="32" height="50"/><use href="#C" class="b" x="535" y="860" width="32" height="40"/><use href="#V" class="b" x="535" y="900" width="32" height="30"/>
<use href="#C" class="b" x="567" y="860" width="38" height="30"/><use href="#Y" class="c" x="567" y="890" width="38" height="30"/>
<use href="#P" class="y" x="605" y="720" width="45" height="175"/><use href="#V" class="b" x="605" y="900" width="45" height="40"/>
<use href="#F" class="b" x="650" y="735" width="40" height="135"/><use href="#M" class="b" x="650" y="870" width="40" height="45"/><use href="#V" class="b" x="650" y="915" width="40" height="40"/>
<use href="#E" class="m" x="700" y="685" width="40" height="250"/>
<use href="#K" class="r" x="745" y="760" width="38" height="115"/><use href="#L" class="b" x="745" y="875" width="38" height="35"/><use href="#E" class="m" x="745" y="910" width="38" height="45"/>
<use href="#Q" class="g" x="785" y="690" width="45" height="210"/><use href="#H" class="p" x="785" y="900" width="45" height="50"/>
<use href="#M" class="b" x="830" y="800" width="35" height="50"/><use href="#V" class="b" x="830" y="850" width="35" height="40"/><use href="#A" class="b" x="830" y="890" width="35" height="35"/><use href="#X" class="b" x="830" y="925" width="35" height="40"/>
<use href="#S" class="g" x="865" y="795" width="40" height="60"/><use href="#A" class="b" x="865" y="855" width="40" height="40"/><use href="#K" class="r" x="865" y="895" width="40" height="40"/><use href="#Q" class="g" x="865" y="935" width="40" height="30"/>
<use href="#K" class="r" x="905" y="860" width="38" height="25"/><use href="#A" class="b" x="905" y="885" width="38" height="40"/><use href="#Q" class="g" x="905" y="925" width="38" height="40"/>
<use href="#L" class="b" x="955" y="730" width="38" height="150"/><use href="#X" class="b" x="955" y="880" width="38" height="40"/><use href="#L" class="b" x="955" y="920" width="38" height="40"/>
<use href="#Y" class="c" x="995" y="675" width="40" height="265"/>
<use href="#T" class="g" x="1038" y="585" width="38" height="383"/>
<use href="#R" class="r" x="1078" y="835" width="35" height="35"/><use href="#P" class="y" x="1078" y="870" width="35" height="25"/><use href="#H" class="p" x="1078" y="895" width="35" height="30"/><use href="#Y" class="c" x="1078" y="925" width="35" height="20"/>
<use href="#E" class="m" x="1115" y="830" width="38" height="40"/><use href="#A" class="b" x="1115" y="880" width="38" height="45"/><use href="#K" class="r" x="1115" y="925" width="38" height="30"/>
<use href="#I" class="b" x="1160" y="820" width="35" height="80"/><use href="#X" class="b" x="1160" y="900" width="35" height="45"/>
<use href="#F" class="b" x="1200" y="625" width="45" height="340"/>
<use href="#K" class="r" x="1245" y="765" width="35" height="115"/><use href="#S" class="g" x="1245" y="880" width="35" height="45"/><use href="#V" class="b" x="1245" y="925" width="35" height="30"/>
<use href="#K" class="r" x="1280" y="745" width="35" height="115"/><use href="#V" class="b" x="1280" y="860" width="35" height="45"/><use href="#S" class="g" x="1280" y="905" width="35" height="40"/>
<use href="#F" class="b" x="1325" y="640" width="40" height="325"/>
<use href="#Q" class="g" x="1365" y="660" width="45" height="280"/>
<use href="#X" class="b" x="1410" y="870" width="35" height="30"/><use href="#E" class="m" x="1410" y="900" width="35" height="50"/>
<use href="#E" class="m" x="1450" y="620" width="40" height="325"/><use href="#Q" class="g" x="1450" y="945" width="40" height="20"/>
<use href="#V" class="b" x="1495" y="750" width="35" height="125"/><use href="#L" class="b" x="1495" y="875" width="35" height="45"/><use href="#T" class="b" x="1495" y="920" width="35" height="25"/><use href="#Y" class="c" x="1495" y="945" width="35" height="20"/>
</g>
<g id="logo-motif5" transform="matrix(0.7843,0,0,0.339,50,2380)">
<use href="#L" class="b" x="333" y="220" width="35" height="150"/><use href="#V" class="b" x="333" y="370" width="35" height="40"/><use href="#M" class="b" x="333" y="410" width="35" height="30"/>
<use href="#R" class="r" x="368" y="280" width="32" height="60"/><use href="#E" class="m" x="368" y="340" width="32" height="25"/><use href="#N" class="g" x="368" y="365" width="32" height="35"/><use href="#A" class="b" x="368" y="400" width="32" height="40"/>
<use href="#N" class="g" x="400" y="185" width="40" height="185"/><use href="#L" class="b" x="400" y="370" width="40" height="35"/><use href="#K" class="r" x="400" y="405" width="40" height="35"/>
<use href="#V" class="b" x="440" y="190" width="38" height="180"/><use href="#L" class="b" x="440" y="370" width="38" height="35"/><use href="#T" class="b" x="440" y="405" width="38" height="35"/>
<use href="#F" class="b" x="478" y="190" width="40" height="170"/><use href="#L" class="b" x="478" y="360" width="40" height="40"/><use href="#A" class="b" x="478" y="400" width="40" height="40"/>
<use href="#W" class="b" x="518" y="90" width="45" height="350"/>
<use href="#X" class="b" x="565" y="275" width="40" height="65"/><use href="#A" class="b" x="565" y="340" width="40" height="40"/><use href="#S" class="g" x="565" y="380" width="40" height="30"/><use href="#T" class="b" x="565" y="410" width="40" height="30"/>
<use href="#D" class="m" x="605" y="205" width="40" height="140"/><use href="#Y" class="c" x="605" y="345" width="40" height="40"/><use href="#N" class="g" x="605" y="385" width="40" height="25"/><use href="#Y" class="y" x="605" y="410" width="40" height="30"/>
<use href="#A" class="b" x="645" y="270" width="35" height="75"/><use href="#G" class="o" x="645" y="345" width="35" height="45"/><use href="#S" class="g" x="645" y="390" width="35" height="50"/>
<use href="#R" class="r" x="680" y="270" width="35" height="75"/><use href="#K" class="r" x="680" y="345" width="35" height="95"/>
<use href="#S" class="g" x="715" y="245" width="40" height="105"/><use href="#G" class="o" x="715" y="350" width="40" height="35"/><use href="#A" class="b" x="715" y="385" width="40" height="35"/><use href="#T" class="b" x="715" y="420" width="40" height="20"/>
<use href="#R" class="r" x="755" y="205" width="40" height="130"/><use href="#V" class="b" x="755" y="335" width="40" height="35"/><use href="#M" class="b" x="755" y="370" width="40" height="40"/><use href="#Y" class="b" x="755" y="410" width="40" height="30"/>
<use href="#Q" class="g" x="795" y="320" width="40" height="35"/><use href="#M" class="b" x="795" y="355" width="40" height="35"/><use href="#D" class="m" x="795" y="390" width="40" height="25"/><use href="#Q" class="g" x="795" y="415" width="40" height="25"/>
<use href="#D" class="m" x="835" y="235" width="38" height="80"/><use href="#A" class="b" x="835" y="315" width="38" height="70"/><use href="#C" class="b" x="835" y="385" width="38" height="55"/>
<use href="#Y" class="c" x="873" y="120" width="40" height="290"/><use href="#C" class="b" x="873" y="410" width="40" height="30"/>
<use href="#T" class="g" x="915" y="335" width="35" height="20"/><use href="#A" class="b" x="915" y="355" width="35" height="30"/><use href="#C" class="b" x="915" y="385" width="35" height="25"/><use href="#M" class="b" x="915" y="410" width="35" height="30"/>
<use href="#Y" class="c" x="950" y="330" width="35" height="25"/><use href="#A" class="b" x="950" y="355" width="35" height="30"/><use href="#M" class="b" x="950" y="390" width="35" height="50"/>
<use href="#L" class="b" x="990" y="390" width="35" height="50"/>
<use href="#F" class="b" x="1030" y="95" width="40" height="345"/>
<use href="#G" class="o" x="1075" y="265" width="40" height="85"/><use href="#S" class="g" x="1075" y="350" width="40" height="50"/><use href="#A" class="b" x="1075" y="400" width="40" height="40"/>
<use href="#D" class="m" x="1115" y="95" width="40" height="345"/>
<use href="#V" class="b" x="1160" y="160" width="38" height="220"/><use href="#T" class="g" x="1160" y="380" width="38" height="30"/><use href="#A" class="b" x="1160" y="410" width="38" height="30"/>
<use href="#V" class="b" x="1198" y="160" width="40" height="280"/>
<use href="#V" class="g" x="1240" y="320" width="35" height="25"/><use href="#Y" class="b" x="1240" y="345" width="35" height="40"/><use href="#C" class="b" x="1240" y="390" width="35" height="50"/>
<use href="#F" class="b" x="1280" y="175" width="45" height="240"/><use href="#M" class="b" x="1280" y="415" width="45" height="25"/>
<use href="#D" class="m" x="1322" y="95" width="42" height="345"/>
<use href="#T" class="g" x="1365" y="125" width="35" height="285"/><use href="#I" class="b" x="1365" y="410" width="35" height="30"/>
<use href="#T" class="g" x="1400" y="265" width="35" height="95"/><use href="#S" class="g" x="1400" y="360" width="35" height="40"/><use href="#M" class="b" x="1400" y="400" width="35" height="40"/>
<use href="#Y" class="c" x="1435" y="210" width="40" height="130"/><use href="#C" class="b" x="1435" y="340" width="40" height="65"/><use href="#V" class="b" x="1435" y="405" width="40" height="35"/>
<use href="#R" class="r" x="1475" y="260" width="40" height="80"/><use href="#L" class="b" x="1475" y="340" width="40" height="40"/><use href="#T" class="b" x="1475" y="380" width="40" height="30"/><use href="#X" class="c" x="1475" y="410" width="40" height="30"/>
</g>
<g id="logo-motif6" transform="matrix(0.861,0,0,0.339,1350,1710)">
<use href="#F" class="b" x="342" y="100" width="33" height="290"/><use href="#W" class="b" x="342" y="390" width="33" height="20"/>
<use href="#E" class="m" x="375" y="165" width="27" height="165"/><use href="#D" class="m" x="375" y="330" width="27" height="50"/><use href="#V" class="b" x="375" y="380" width="27" height="30"/>
<use href="#K" class="r" x="402" y="300" width="25" height="25"/><use href="#A" class="b" x="402" y="325" width="25" height="25"/><use href="#N" class="g" x="402" y="350" width="25" height="25"/><use href="#C" class="b" x="402" y="375" width="25" height="35"/>
<use href="#R" class="r" x="428" y="275" width="27" height="40"/><use href="#A" class="b" x="428" y="315" width="27" height="30"/><use href="#G" class="g" x="428" y="345" width="27" height="30"/><use href="#C" class="b" x="428" y="375" width="27" height="35"/>
<use href="#W" class="b" x="455" y="75" width="35" height="335"/>
<use href="#Q" class="g" x="490" y="285" width="25" height="35"/><use href="#N" class="g" x="490" y="320" width="25" height="35"/><use href="#W" class="b" x="490" y="355" width="25" height="25"/><use href="#D" class="m" x="490" y="380" width="25" height="30"/>
<use href="#K" class="r" x="515" y="315" width="25" height="30"/><use href="#S" class="g" x="515" y="345" width="25" height="35"/><use href="#E" class="m" x="515" y="380" width="25" height="30"/>
<use href="#M" class="b" x="545" y="175" width="27" height="165"/><use href="#L" class="b" x="545" y="340" width="27" height="70"/>
<use href="#Y" class="b" x="572" y="185" width="28" height="155"/><use href="#L" class="b" x="572" y="340" width="28" height="70"/>
<use href="#D" class="m" x="600" y="270" width="30" height="55"/><use href="#V" class="b" x="600" y="325" width="30" height="25"/><use href="#A" class="b" x="600" y="350" width="30" height="25"/><use href="#D" class="m" x="600" y="375" width="30" height="35"/>
<use href="#K" class="r" x="630" y="265" width="30" height="65"/><use href="#R" class="r" x="630" y="330" width="30" height="25"/><use href="#Q" class="g" x="630" y="355" width="30" height="25"/><use href="#D" class="m" x="630" y="380" width="30" height="30"/>
<use href="#F" class="b" x="660" y="170" width="30" height="130"/><use href="#Y" class="c" x="660" y="300" width="30" height="110"/>
<use href="#G" class="o" x="690" y="255" width="30" height="60"/><use href="#N" class="g" x="690" y="315" width="30" height="40"/><use href="#T" class="b" x="690" y="355" width="30" height="55"/>
<use href="#L" class="b" x="720" y="100" width="25" height="260"/><use href="#T" class="b" x="720" y="360" width="25" height="50"/>
<use href="#R" class="r" x="745" y="315" width="30" height="30"/><use href="#K" class="r" x="745" y="345" width="30" height="30"/><use href="#A" class="b" x="745" y="375" width="30" height="35"/>
<use href="#D" class="m" x="775" y="300" width="30" height="40"/><use href="#S" class="g" x="775" y="340" width="30" height="40"/><use href="#C" class="b" x="775" y="380" width="30" height="30"/>
<use href="#N" class="g" x="805" y="205" width="30" height="110"/><use href="#D" class="m" x="805" y="315" width="30" height="55"/><use href="#C" class="b" x="805" y="370" width="30" height="40"/>
<use href="#E" class="m" x="835" y="260" width="30" height="60"/><use href="#K" class="r" x="835" y="320" width="30" height="55"/><use href="#H" class="p" x="835" y="375" width="30" height="35"/>
<use href="#W" class="b" x="865" y="160" width="30" height="150"/><use href="#H" class="p" x="865" y="310" width="30" height="100"/>
<use href="#L" class="b" x="895" y="255" width="25" height="85"/><use href="#T" class="b" x="895" y="340" width="25" height="30"/><use href="#X" class="b" x="895" y="370" width="25" height="40"/>
<use href="#Q" class="g" x="920" y="270" width="28" height="60"/><use href="#K" class="r" x="920" y="330" width="28" height="25"/><use href="#A" class="b" x="920" y="355" width="28" height="25"/><use href="#T" class="b" x="920" y="380" width="28" height="30"/>
<use href="#S" class="g" x="948" y="290" width="30" height="40"/><use href="#E" class="m" x="948" y="330" width="30" height="30"/><use href="#C" class="b" x="948" y="360" width="30" height="50"/>
<use href="#L" class="b" x="978" y="135" width="27" height="210"/><use href="#M" class="b" x="978" y="345" width="27" height="65"/>
<use href="#Y" class="c" x="1005" y="135" width="30" height="230"/><use href="#F" class="b" x="1005" y="365" width="30" height="45"/>
<use href="#S" class="g" x="1040" y="290" width="25" height="40"/><use href="#D" class="m" x="1040" y="330" width="25" height="40"/><use href="#C" class="b" x="1040" y="370" width="25" height="40"/>
<use href="#D" class="m" x="1065" y="270" width="30" height="55"/><use href="#E" class="m" x="1065" y="325" width="30" height="35"/><use href="#A" class="b" x="1065" y="360" width="30" height="50"/>
<use href="#R" class="r" x="1095" y="75" width="30" height="335"/>
<use href="#E" class="m" x="1125" y="280" width="30" height="25"/><use href="#A" class="b" x="1125" y="305" width="30" height="30"/><use href="#K" class="r" x="1125" y="335" width="30" height="30"/><use href="#R" class="r" x="1125" y="365" width="30" height="45"/>
<use href="#Q" class="g" x="1155" y="285" width="25" height="40"/><use href="#K" class="r" x="1155" y="325" width="25" height="30"/><use href="#Y" class="c" x="1155" y="355" width="25" height="25"/><use href="#E" class="m" x="1155" y="380" width="25" height="30"/>
<use href="#W" class="b" x="1180" y="75" width="35" height="335"/>
<use href="#V" class="b" x="1215" y="195" width="25" height="155"/><use href="#A" class="b" x="1215" y="350" width="25" height="40"/>
<use href="#P" class="y" x="1240" y="185" width="30" height="180"/><use href="#I" class="b" x="1240" y="365" width="30" height="45"/>
<use href="#V" class="b" x="1270" y="290" width="25" height="35"/><use href="#T" class="g" x="1270" y="325" width="25" height="30"/><use href="#X" class="b" x="1270" y="355" width="25" height="30"/><use href="#P" class="y" x="1270" y="385" width="25" height="25"/>
<use href="#Y" class="c" x="1295" y="150" width="30" height="140"/><use href="#F" class="b" x="1295" y="290" width="30" height="120"/>
<use href="#M" class="b" x="1325" y="285" width="30" height="30"/><use href="#Y" class="b" x="1325" y="315" width="30" height="50"/><use href="#H" class="p" x="1325" y="365" width="30" height="45"/>
<use href="#R" class="r" x="1355" y="180" width="30" height="110"/><use href="#K" class="r" x="1355" y="290" width="30" height="75"/><use href="#Q" class="g" x="1355" y="365" width="30" height="45"/>
<use href="#D" class="m" x="1385" y="240" width="30" height="70"/><use href="#N" class="g" x="1385" y="310" width="30" height="45"/><use href="#G" class="o" x="1385" y="355" width="30" height="35"/>
<use href="#T" class="g" x="1415" y="285" width="25" height="40"/><use href="#N" class="g" x="1415" y="325" width="25" height="35"/><use href="#Y" class="c" x="1415" y="360" width="25" height="30"/><use href="#C" class="b" x="1415" y="390" width="25" height="20"/>
<use href="#F" class="b" x="1440" y="135" width="30" height="170"/><use href="#F" class="b" x="1440" y="305" width="30" height="80"/>
<use href="#L" class="b" x="1470" y="260" width="25" height="50"/><use href="#F" class="b" x="1470" y="310" width="25" height="80"/>
<use href="#A" class="b" x="1500" y="75" width="30" height="335"/>
</g>
<g id="logo-motif7" transform="matrix(0.861,0,0,0.339,1350,1710)">
<use href="#D" class="m" x="362" y="780" width="55" height="40"/><use href="#R" class="r" x="362" y="820" width="55" height="35"/><use href="#G" class="o" x="362" y="855" width="55" height="20"/><use href="#A" class="b" x="362" y="875" width="55" height="30"/>
<use href="#S" class="g" x="420" y="780" width="55" height="40"/><use href="#V" class="b" x="420" y="820" width="55" height="30"/><use href="#S" class="g" x="420" y="850" width="55" height="25"/><use href="#D" class="m" x="420" y="875" width="55" height="30"/>
<use href="#G" class="o" x="478" y="705" width="55" height="130"/><use href="#Q" class="g" x="478" y="835" width="55" height="40"/><use href="#D" class="m" x="478" y="875" width="55" height="30"/>
<use href="#K" class="r" x="536" y="680" width="55" height="120"/><use href="#R" class="r" x="536" y="800" width="55" height="60"/><use href="#Q" class="g" x="536" y="860" width="55" height="45"/>
<use href="#W" class="b" x="594" y="565" width="55" height="330"/>
<use href="#V" class="b" x="652" y="735" width="55" height="60"/><use href="#R" class="r" x="652" y="795" width="55" height="50"/><use href="#Y" class="c" x="652" y="845" width="55" height="30"/><use href="#X" class="b" x="652" y="875" width="55" height="30"/>
<use href="#Y" class="b" x="710" y="610" width="55" height="295"/>
<use href="#T" class="g" x="768" y="775" width="55" height="45"/><use href="#X" class="b" x="768" y="820" width="55" height="30"/><use href="#D" class="m" x="768" y="850" width="55" height="25"/><use href="#C" class="b" x="768" y="875" width="55" height="30"/>
<use href="#K" class="r" x="826" y="755" width="55" height="40"/><use href="#S" class="g" x="826" y="795" width="55" height="40"/><use href="#E" class="m" x="826" y="835" width="55" height="30"/><use href="#A" class="b" x="826" y="865" width="55" height="40"/>
<use href="#F" class="b" x="884" y="615" width="55" height="230"/><use href="#V" class="b" x="884" y="845" width="55" height="60"/>
<use href="#V" class="b" x="942" y="745" width="55" height="55"/><use href="#N" class="g" x="942" y="800" width="55" height="25"/><use href="#K" class="r" x="942" y="825" width="55" height="30"/><use href="#A" class="b" x="942" y="855" width="55" height="50"/>
<use href="#K" class="r" x="1000" y="710" width="55" height="110"/><use href="#N" class="g" x="1000" y="820" width="55" height="30"/><use href="#E" class="m" x="1000" y="850" width="55" height="25"/><use href="#L" class="b" x="1000" y="875" width="55" height="30"/>
<use href="#E" class="m" x="1058" y="690" width="55" height="100"/><use href="#D" class="m" x="1058" y="790" width="55" height="70"/><use href="#V" class="b" x="1058" y="860" width="55" height="45"/>
<use href="#H" class="p" x="1116" y="540" width="55" height="365"/>
<use href="#N" class="g" x="1174" y="590" width="55" height="285"/><use href="#S" class="g" x="1174" y="875" width="55" height="30"/>
<use href="#H" class="p" x="1232" y="540" width="55" height="365"/>
<use href="#E" class="m" x="1290" y="745" width="55" height="75"/><use href="#F" class="y" x="1290" y="820" width="55" height="25"/><use href="#L" class="b" x="1290" y="845" width="55" height="25"/><use href="#D" class="m" x="1290" y="870" width="55" height="35"/>
<use href="#L" class="b" x="1348" y="650" width="55" height="220"/><use href="#V" class="b" x="1348" y="870" width="55" height="35"/>
<use href="#V" class="b" x="1406" y="810" width="55" height="40"/><use href="#D" class="m" x="1406" y="850" width="55" height="30"/><use href="#S" class="g" x="1406" y="880" width="55" height="25"/>
<use href="#P" class="y" x="1464" y="715" width="55" height="95"/><use href="#V" class="b" x="1464" y="810" width="55" height="30"/><use href="#E" class="m" x="1464" y="840" width="55" height="30"/><use href="#S" class="g" x="1464" y="870" width="55" height="35"/>
</g>
<g id="logo-motif8" transform="matrix(0.861,0,0,0.339,1350,2040)">
<use href="#W" class="b" x="342" y="265" width="23" height="45"/><use href="#Y" class="c" x="342" y="310" width="23" height="30"/><use href="#A" class="b" x="342" y="345" width="23" height="30"/><use href="#D" class="m" x="342" y="380" width="23" height="40"/>
<use href="#N" class="g" x="365" y="225" width="25" height="100"/><use href="#A" class="b" x="365" y="325" width="25" height="30"/><use href="#L" class="b" x="365" y="355" width="25" height="30"/><use href="#D" class="m" x="365" y="390" width="25" height="40"/>
<use href="#K" class="r" x="390" y="315" width="20" height="30"/><use href="#A" class="b" x="390" y="345" width="20" height="35"/><use href="#E" class="m" x="390" y="380" width="20" height="40"/>
<use href="#T" class="g" x="410" y="280" width="25" height="40"/><use href="#S" class="g" x="410" y="320" width="25" height="25"/><use href="#L" class="b" x="410" y="345" width="25" height="35"/><use href="#E" class="m" x="410" y="380" width="25" height="40"/>
<use href="#N" class="g" x="435" y="300" width="23" height="40"/><use href="#S" class="g" x="435" y="340" width="23" height="30"/><use href="#E" class="m" x="435" y="370" width="23" height="40"/><use href="#Q" class="g" x="435" y="410" width="23" height="30"/>
<use href="#S" class="g" x="458" y="275" width="22" height="45"/><use href="#M" class="b" x="458" y="320" width="22" height="40"/><use href="#A" class="b" x="458" y="360" width="22" height="30"/><use href="#C" class="b" x="458" y="390" width="22" height="40"/>
<use href="#E" class="m" x="480" y="250" width="25" height="50"/><use href="#D" class="m" x="480" y="300" width="25" height="55"/><use href="#R" class="r" x="480" y="355" width="25" height="40"/><use href="#Q" class="g" x="480" y="395" width="25" height="35"/>
<use href="#Y" class="b" x="505" y="195" width="25" height="110"/><use href="#S" class="g" x="505" y="305" width="25" height="40"/><use href="#A" class="b" x="505" y="345" width="25" height="50"/><use href="#V" class="b" x="505" y="395" width="25" height="40"/>
<use href="#S" class="g" x="530" y="300" width="25" height="40"/><use href="#Q" class="g" x="530" y="340" width="25" height="30"/><use href="#A" class="b" x="530" y="370" width="25" height="40"/><use href="#C" class="b" x="530" y="410" width="25" height="25"/>
<use href="#C" class="b" x="555" y="60" width="35" height="290"/><use href="#L" class="b" x="555" y="350" width="35" height="30"/><use href="#V" class="b" x="555" y="380" width="35" height="40"/>
<use href="#S" class="g" x="590" y="220" width="30" height="115"/><use href="#L" class="b" x="590" y="335" width="30" height="40"/><use href="#V" class="b" x="590" y="375" width="30" height="45"/>
<use href="#C" class="b" x="620" y="60" width="35" height="290"/><use href="#V" class="b" x="620" y="350" width="35" height="40"/><use href="#E" class="m" x="620" y="390" width="35" height="40"/>
<use href="#R" class="r" x="655" y="270" width="25" height="35"/><use href="#S" class="g" x="655" y="305" width="25" height="25"/><use href="#M" class="b" x="655" y="330" width="25" height="30"/><use href="#K" class="r" x="655" y="360" width="25" height="30"/><use href="#D" class="m" x="655" y="390" width="25" height="35"/>
<use href="#F" class="b" x="680" y="100" width="25" height="200"/><use href="#L" class="b" x="680" y="300" width="25" height="60"/><use href="#Y" class="c" x="680" y="360" width="25" height="50"/>
<use href="#E" class="m" x="705" y="150" width="25" height="170"/><use href="#N" class="g" x="705" y="320" width="25" height="60"/><use href="#T" class="b" x="705" y="380" width="25" height="40"/>
<use href="#Y" class="c" x="730" y="190" width="22" height="80"/><use href="#S" class="g" x="730" y="270" width="22" height="40"/><use href="#F" class="b" x="730" y="310" width="22" height="50"/>
<use href="#K" class="r" x="752" y="290" width="23" height="45"/><use href="#S" class="g" x="752" y="335" width="23" height="45"/><use href="#Q" class="g" x="752" y="380" width="23" height="40"/>
<use href="#G" class="o" x="775" y="70" width="30" height="330"/><use href="#H" class="b" x="775" y="400" width="30" height="40"/>
<use href="#Y" class="c" x="805" y="200" width="22" height="100"/><use href="#L" class="b" x="805" y="300" width="22" height="70"/><use href="#M" class="b" x="805" y="370" width="22" height="45"/>
<use href="#I" class="b" x="827" y="60" width="18" height="330"/><use href="#V" class="b" x="827" y="390" width="18" height="50"/>
<use href="#C" class="b" x="845" y="60" width="30" height="320"/><use href="#V" class="b" x="845" y="380" width="30" height="60"/>
<use href="#R" class="r" x="875" y="100" width="27" height="310"/><use href="#N" class="g" x="875" y="410" width="27" height="30"/>
<use href="#H" class="p" x="902" y="60" width="25" height="390"/>
<use href="#A" class="b" x="927" y="210" width="25" height="120"/><use href="#M" class="b" x="927" y="330" width="25" height="60"/><use href="#I" class="b" x="927" y="390" width="25" height="40"/>
<use href="#L" class="b" x="952" y="260" width="20" height="60"/><use href="#M" class="b" x="952" y="320" width="20" height="40"/><use href="#T" class="g" x="952" y="360" width="20" height="40"/><use href="#C" class="b" x="952" y="400" width="20" height="40"/>
<use href="#M" class="b" x="972" y="340" width="18" height="30"/><use href="#K" class="r" x="972" y="370" width="18" height="30"/><use href="#C" class="b" x="972" y="400" width="18" height="40"/>
<use href="#V" class="b" x="990" y="100" width="22" height="270"/><use href="#I" class="b" x="990" y="370" width="22" height="70"/>
<use href="#L" class="b" x="1012" y="245" width="20" height="110"/><use href="#F" class="b" x="1012" y="355" width="20" height="85"/>
<use href="#Q" class="g" x="1032" y="255" width="22" height="55"/><use href="#T" class="g" x="1032" y="310" width="22" height="30"/><use href="#D" class="m" x="1032" y="340" width="22" height="30"/><use href="#E" class="m" x="1032" y="370" width="22" height="40"/><use href="#N" class="g" x="1032" y="410" width="22" height="30"/>
<use href="#I" class="b" x="1054" y="300" width="20" height="35"/><use href="#X" class="b" x="1054" y="335" width="20" height="30"/><use href="#M" class="b" x="1054" y="365" width="20" height="30"/><use href="#K" class="r" x="1054" y="395" width="20" height="40"/>
<use href="#L" class="b" x="1074" y="250" width="20" height="60"/><use href="#T" class="g" x="1074" y="310" width="20" height="30"/><use href="#N" class="g" x="1074" y="340" width="20" height="30"/><use href="#D" class="m" x="1074" y="370" width="20" height="40"/><use href="#Q" class="g" x="1074" y="410" width="20" height="30"/>
<use href="#G" class="o" x="1094" y="225" width="28" height="75"/><use href="#N" class="g" x="1094" y="300" width="28" height="55"/><use href="#K" class="r" x="1094" y="355" width="28" height="40"/><use href="#D" class="m" x="1094" y="395" width="28" height="40"/>
<use href="#V" class="b" x="1122" y="250" width="25" height="75"/><use href="#L" class="b" x="1122" y="325" width="25" height="45"/><use href="#Y" class="c" x="1122" y="370" width="25" height="35"/><use href="#C" class="b" x="1122" y="405" width="25" height="35"/>
<use href="#F" class="b" x="1147" y="300" width="23" height="40"/><use href="#K" class="r" x="1147" y="340" width="23" height="30"/><use href="#E" class="m" x="1147" y="370" width="23" height="40"/><use href="#C" class="b" x="1147" y="410" width="23" height="30"/>
<use href="#S" class="g" x="1170" y="270" width="25" height="65"/><use href="#T" class="g" x="1170" y="335" width="25" height="30"/><use href="#E" class="m" x="1170" y="365" width="25" height="55"/>
<use href="#I" class="b" x="1195" y="150" width="20" height="170"/><use href="#L" class="b" x="1195" y="320" width="20" height="120"/>
<use href="#P" class="y" x="1215" y="70" width="32" height="300"/><use href="#A" class="b" x="1215" y="370" width="32" height="40"/><use href="#C" class="b" x="1215" y="410" width="32" height="30"/>
<use href="#S" class="g" x="1247" y="290" width="23" height="50"/><use href="#A" class="b" x="1247" y="340" width="23" height="40"/><use href="#X" class="b" x="1247" y="380" width="23" height="40"/>
<use href="#Q" class="g" x="1270" y="310" width="22" height="50"/><use href="#K" class="r" x="1270" y="360" width="22" height="40"/><use href="#C" class="b" x="1270" y="400" width="22" height="40"/>
<use href="#Y" class="c" x="1292" y="70" width="27" height="330"/><use href="#V" class="b" x="1292" y="400" width="27" height="40"/>
<use href="#I" class="b" x="1319" y="120" width="20" height="230"/><use href="#V" class="b" x="1319" y="350" width="20" height="60"/>
<use href="#L" class="b" x="1339" y="260" width="20" height="180"/>
<use href="#K" class="r" x="1359" y="270" width="25" height="90"/><use href="#S" class="g" x="1359" y="360" width="25" height="40"/><use href="#V" class="b" x="1359" y="400" width="25" height="40"/>
<use href="#R" class="r" x="1384" y="70" width="25" height="370"/>
<use href="#W" class="b" x="1409" y="70" width="26" height="370"/>
<use href="#T" class="g" x="1435" y="160" width="25" height="230"/><use href="#R" class="r" x="1435" y="390" width="25" height="50"/>
<use href="#R" class="r" x="1460" y="180" width="25" height="140"/><use href="#K" class="r" x="1460" y="320" width="25" height="110"/>
<use href="#D" class="m" x="1485" y="290" width="22" height="50"/><use href="#N" class="g" x="1485" y="340" width="22" height="40"/><use href="#X" class="b" x="1485" y="380" width="22" height="40"/>
<use href="#A" class="b" x="1507" y="175" width="24" height="215"/><use href="#X" class="b" x="1507" y="390" width="24" height="50"/>
</g>
<g id="logo-motif9" transform="matrix(0.861,0,0,0.339,1350,2040)">
<use href="#P" class="y" x="342" y="635" width="23" height="310"/><use href="#L" class="b" x="342" y="945" width="23" height="20"/>
<use href="#F" class="b" x="365" y="680" width="25" height="170"/><use href="#L" class="b" x="365" y="850" width="25" height="100"/>
<use href="#A" class="b" x="390" y="780" width="24" height="60"/><use href="#G" class="o" x="390" y="840" width="24" height="40"/><use href="#C" class="b" x="390" y="880" width="24" height="40"/><use href="#V" class="b" x="390" y="920" width="24" height="40"/>
<use href="#P" class="y" x="414" y="790" width="24" height="45"/><use href="#X" class="b" x="414" y="835" width="24" height="35"/><use href="#W" class="b" x="414" y="870" width="24" height="30"/><use href="#T" class="b" x="414" y="900" width="24" height="40"/>
<use href="#F" class="b" x="438" y="705" width="24" height="125"/><use href="#I" class="b" x="438" y="830" width="24" height="40"/><use href="#V" class="b" x="438" y="870" width="24" height="40"/><use href="#T" class="g" x="438" y="910" width="24" height="40"/>
<use href="#I" class="b" x="462" y="780" width="22" height="60"/><use href="#Y" class="b" x="462" y="840" width="22" height="50"/><use href="#T" class="g" x="462" y="890" width="22" height="40"/><use href="#E" class="m" x="462" y="930" width="22" height="30"/>
<use href="#G" class="o" x="485" y="600" width="32" height="350"/>
<use href="#Y" class="b" x="517" y="700" width="22" height="220"/><use href="#G" class="o" x="517" y="920" width="22" height="40"/>
<use href="#N" class="b" x="539" y="690" width="25" height="260"/>
<use href="#H" class="p" x="564" y="620" width="25" height="330"/>
<use href="#H" class="p" x="589" y="640" width="25" height="310"/>
<use href="#G" class="o" x="614" y="810" width="25" height="60"/><use href="#K" class="r" x="614" y="870" width="25" height="30"/><use href="#A" class="b" x="614" y="900" width="25" height="40"/>
<use href="#Q" class="g" x="639" y="680" width="30" height="190"/><use href="#T" class="g" x="639" y="870" width="30" height="40"/><use href="#M" class="b" x="639" y="910" width="30" height="40"/>
<use href="#S" class="g" x="669" y="830" width="22" height="35"/><use href="#T" class="g" x="669" y="865" width="22" height="40"/><use href="#Y" class="b" x="669" y="905" width="22" height="45"/>
<use href="#Y" class="b" x="691" y="770" width="22" height="80"/><use href="#F" class="b" x="691" y="850" width="22" height="50"/><use href="#Y" class="b" x="691" y="900" width="22" height="50"/>
<use href="#L" class="b" x="713" y="720" width="22" height="110"/><use href="#F" class="b" x="713" y="830" width="22" height="90"/><use href="#Y" class="b" x="713" y="920" width="22" height="30"/>
<use href="#H" class="b" x="735" y="750" width="22" height="80"/><use href="#F" class="b" x="735" y="830" width="22" height="100"/>
<use href="#G" class="o" x="757" y="670" width="30" height="230"/><use href="#G" class="o" x="757" y="900" width="30" height="40"/>
<use href="#C" class="b" x="787" y="680" width="28" height="210"/><use href="#A" class="b" x="787" y="890" width="28" height="50"/>
<use href="#A" class="b" x="815" y="750" width="22" height="110"/><use href="#G" class="o" x="815" y="860" width="22" height="40"/><use href="#C" class="b" x="815" y="900" width="22" height="40"/>
<use href="#L" class="b" x="837" y="630" width="20" height="310"/>
<use href="#L" class="b" x="857" y="820" width="22" height="60"/><use href="#T" class="g" x="857" y="880" width="22" height="30"/><use href="#X" class="b" x="857" y="910" width="22" height="40"/>
<use href="#A" class="b" x="879" y="790" width="22" height="90"/><use href="#T" class="g" x="879" y="880" width="22" height="30"/><use href="#M" class="b" x="879" y="910" width="22" height="40"/>
<use href="#D" class="m" x="901" y="700" width="25" height="160"/><use href="#S" class="g" x="901" y="860" width="25" height="30"/><use href="#E" class="m" x="901" y="890" width="25" height="40"/>
<use href="#E" class="m" x="926" y="700" width="24" height="165"/><use href="#X" class="b" x="926" y="865" width="24" height="40"/><use href="#M" class="b" x="926" y="905" width="24" height="40"/>
<use href="#T" class="g" x="950" y="730" width="22" height="80"/><use href="#S" class="g" x="950" y="810" width="22" height="40"/><use href="#K" class="r" x="950" y="850" width="22" height="40"/><use href="#G" class="o" x="950" y="890" width="22" height="40"/>
<use href="#V" class="b" x="972" y="820" width="20" height="40"/><use href="#D" class="m" x="972" y="860" width="20" height="40"/><use href="#A" class="b" x="972" y="900" width="20" height="40"/>
<use href="#E" class="m" x="992" y="820" width="22" height="40"/><use href="#W" class="b" x="992" y="860" width="22" height="40"/><use href="#T" class="g" x="992" y="900" width="22" height="40"/>
<use href="#S" class="g" x="1014" y="680" width="25" height="170"/><use href="#T" class="g" x="1014" y="850" width="25" height="80"/>
<use href="#F" class="b" x="1039" y="700" width="22" height="150"/><use href="#Y" class="c" x="1039" y="850" width="22" height="50"/>
<use href="#V" class="b" x="1061" y="850" width="20" height="40"/><use href="#Y" class="c" x="1061" y="890" width="20" height="40"/>
<use href="#W" class="b" x="1081" y="595" width="30" height="345"/>
<use href="#L" class="b" x="1111" y="705" width="20" height="180"/><use href="#A" class="b" x="1111" y="885" width="20" height="40"/><use href="#M" class="b" x="1111" y="925" width="20" height="30"/>
<use href="#F" class="b" x="1131" y="775" width="22" height="75"/><use href="#Q" class="g" x="1131" y="850" width="22" height="50"/>
<use href="#R" class="r" x="1153" y="800" width="22" height="70"/><use href="#K" class="r" x="1153" y="870" width="22" height="90"/>
<use href="#T" class="g" x="1175" y="680" width="25" height="220"/><use href="#A" class="b" x="1175" y="900" width="25" height="40"/>
<use href="#W" class="b" x="1200" y="680" width="25" height="200"/><use href="#F" class="b" x="1200" y="880" width="25" height="60"/>
<use href="#L" class="b" x="1225" y="790" width="20" height="110"/><use href="#M" class="b" x="1225" y="900" width="20" height="40"/>
<use href="#R" class="r" x="1245" y="830" width="20" height="40"/><use href="#T" class="g" x="1245" y="870" width="20" height="30"/><use href="#Y" class="c" x="1245" y="900" width="20" height="40"/>
<use href="#A" class="b" x="1265" y="800" width="20" height="80"/><use href="#C" class="b" x="1265" y="880" width="20" height="30"/><use href="#V" class="b" x="1265" y="910" width="20" height="40"/>
<use href="#M" class="b" x="1285" y="655" width="30" height="285"/>
<use href="#S" class="g" x="1315" y="800" width="22" height="40"/><use href="#G" class="o" x="1315" y="840" width="22" height="40"/><use href="#N" class="g" x="1315" y="880" width="22" height="40"/>
<use href="#G" class="o" x="1337" y="730" width="22" height="120"/><use href="#K" class="r" x="1337" y="850" width="22" height="40"/><use href="#C" class="b" x="1337" y="890" width="22" height="40"/>
<use href="#R" class="r" x="1359" y="750" width="25" height="90"/><use href="#K" class="r" x="1359" y="840" width="25" height="50"/><use href="#X" class="b" x="1359" y="890" width="25" height="40"/>
<use href="#P" class="y" x="1384" y="790" width="18" height="30"/><use href="#A" class="b" x="1384" y="820" width="18" height="60"/>
<use href="#P" class="y" x="1402" y="595" width="30" height="345"/>
<use href="#Q" class="g" x="1432" y="765" width="25" height="80"/><use href="#K" class="r" x="1432" y="845" width="25" height="60"/><use href="#V" class="b" x="1432" y="905" width="25" height="30"/>
<use href="#V" class="b" x="1457" y="765" width="25" height="70"/><use href="#T" class="g" x="1457" y="835" width="25" height="75"/><use href="#S" class="g" x="1457" y="910" width="25" height="50"/>
<use href="#I" class="b" x="1482" y="635" width="18" height="300"/>
<use href="#L" class="b" x="1500" y="700" width="30" height="150"/><use href="#T" class="b" x="1500" y="850" width="30" height="60"/><use href="#T" class="g" x="1500" y="910" width="30" height="50"/>
</g>
</svg>
